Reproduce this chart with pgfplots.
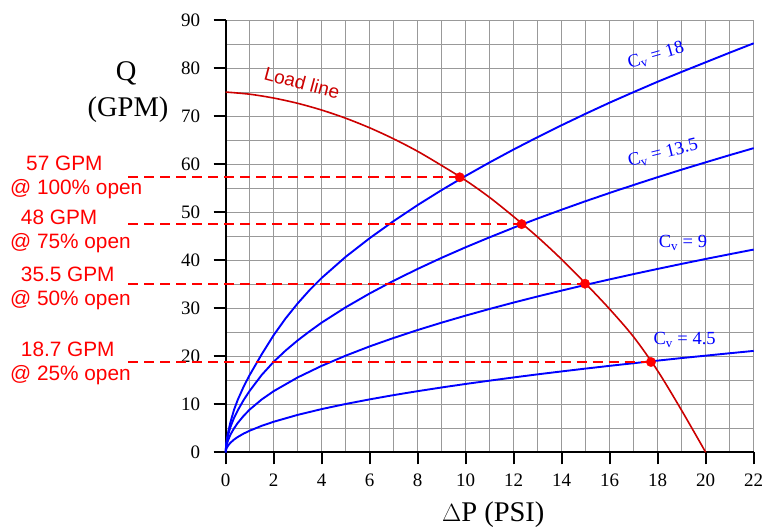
\documentclass[border=0pt]{standalone}
\usepackage{fontspec}
\setmainfont{Liberation Serif}
\newfontfamily\arial{Liberation Sans}
\usepackage{pgfplots}
\pgfplotsset{compat=1.18}
\definecolor{loadred}{HTML}{CC0000}
\definecolor{gridgray}{HTML}{999999}
\definecolor{cvblue}{HTML}{0000FF}
\definecolor{dotred}{HTML}{FF0000}
\begin{document}
\begin{tikzpicture}[x=1pt,y=1pt]
\useasboundingbox (-225.7,-74.7) rectangle (537.3,452.3);
\begin{axis}[
  at={(0,0)}, anchor=south west,
  width=528pt, height=432.3pt, scale only axis,
  xmin=0, xmax=22, ymin=0, ymax=90,
  clip=false,
  axis x line*=bottom, axis y line*=left,
  axis line style={-, line width=1.8pt, black},
  xtick={0,2,...,22}, ytick={0,10,...,90},
  minor x tick num=1, minor y tick num=1,
  grid=both,
  major grid style={gridgray, line width=0.9pt},
  minor grid style={gridgray, line width=0.9pt},
  tick align=outside,
  major tick length=12pt, minor tick length=0pt,
  tick style={black, line width=1.8pt},
  /pgf/number format/assume math mode=true,
  tick label style={font=\fontsize{19}{22}\selectfont},
  xticklabel style={yshift=-6pt},
  yticklabel style={xshift=-10pt},
  unbounded coords=jump,
]
% Cv curves
\addplot[cvblue, line width=1.9pt] coordinates {
(0,0)(0.02,1.8)(0.05,2.8)(0.1,4.15)(0.2,6.3)(0.35,8.9)(0.5,10.9)(0.75,13.7)(1,16.1)(1.5,20.4)(2,24.4)(2.5,27.9)(3,31.0)(3.5,33.8)(4,36.3)(5,40.7)(6,44.58)(7,48.15)(8,51.48)(9,54.6)(10,57.55)(11,60.36)(12,63.05)(13,65.62)(14,68.1)(15,70.49)(16,72.8)(17,75.0)(18,77.15)(19,79.2)(20,81.2)(21,83.2)(22,85.15)};
\addplot[cvblue, line width=1.9pt] coordinates {
(0,0)(0.02,1.5)(0.05,2.4)(0.1,3.6)(0.2,5.3)(0.35,7.2)(0.5,8.7)(0.75,10.9)(1,12.8)(1.5,16.1)(2,18.85)(2.5,21.2)(3,23.3)(3.5,25.2)(4,27.0)(5,30.19)(6,33.07)(7,35.72)(8,38.18)(9,40.5)(10,42.69)(11,44.77)(12,46.77)(13,48.68)(14,50.51)(15,52.29)(16,54.0)(17,55.66)(18,57.28)(19,58.85)(20,60.37)(21,61.87)(22,63.32)};
\addplot[cvblue, line width=1.9pt] coordinates {
(0,0)(0.02,1.1)(0.05,1.7)(0.1,2.5)(0.2,3.7)(0.35,5.0)(0.5,6.1)(0.75,7.6)(1,8.9)(1.5,11.0)(2,12.73)(3,15.59)(4,18.0)(5,20.12)(6,22.05)(7,23.81)(8,25.46)(9,27.0)(10,28.46)(11,29.85)(12,31.18)(13,32.45)(14,33.67)(15,34.86)(16,36.0)(17,37.11)(18,38.18)(19,39.23)(20,40.25)(21,41.24)(22,42.21)};
\addplot[cvblue, line width=1.9pt] coordinates {
(0,0)(0.02,0.6)(0.05,0.95)(0.1,1.4)(0.2,2.0)(0.35,2.66)(0.5,3.18)(0.75,3.9)(1,4.5)(1.5,5.51)(2,6.36)(3,7.79)(4,9.0)(5,10.06)(6,11.02)(7,11.91)(8,12.73)(9,13.5)(10,14.23)(11,14.92)(12,15.59)(13,16.23)(14,16.84)(15,17.43)(16,18.0)(17,18.55)(18,19.09)(19,19.62)(20,20.12)(21,20.62)(22,21.11)};
% load line
\addplot[loadred, line width=1.6pt, smooth] coordinates {
(0,75)(1,74.55)(2,73.75)(3,72.65)(4,71.25)(5,69.55)(6,67.55)(7,65.25)(8,62.65)(9,59.7)(10,56.6)(11,53.05)(12,49.05)(13,44.8)(14,40.15)(15,35.1)(16,29.8)(17,24.0)(18,16.95)(19,8.7)(20,0)};
% dashed lines
\addplot[draw=dotred, line width=1.8pt, dash pattern=on 10pt off 6pt] coordinates {
(-4.05,18.8)(17.72,18.8)
(nan,nan)
(-4.05,35.1)(14.97,35.1)
(nan,nan)
(-4.05,47.5)(12.33,47.5)
(nan,nan)
(-4.05,57.25)(9.75,57.25)};
% dots
\addplot[only marks, mark=*, mark size=4.7pt, mark options={draw=dotred, fill=dotred}] coordinates {(9.75,57.25)(12.33,47.5)(14.97,35.1)(17.72,18.8)};
% labels
\node[anchor=base west, inner sep=0pt, text=dotred, font=\arial\fontsize{20.8}{24}\selectfont] at (axis cs:-8.32,58.6) {57 GPM};
\node[anchor=base west, inner sep=0pt, text=dotred, font=\arial\fontsize{20.8}{24}\selectfont] at (axis cs:-8.99,53.75) {@ 100\% open};
\node[anchor=base west, inner sep=0pt, text=dotred, font=\arial\fontsize{20.8}{24}\selectfont] at (axis cs:-8.54,47.35) {48 GPM};
\node[anchor=base west, inner sep=0pt, text=dotred, font=\arial\fontsize{20.8}{24}\selectfont] at (axis cs:-8.99,42.35) {@ 75\% open};
\node[anchor=base west, inner sep=0pt, text=dotred, font=\arial\fontsize{20.8}{24}\selectfont] at (axis cs:-8.54,35.54) {35.5 GPM};
\node[anchor=base west, inner sep=0pt, text=dotred, font=\arial\fontsize{20.8}{24}\selectfont] at (axis cs:-8.99,30.54) {@ 50\% open};
\node[anchor=base west, inner sep=0pt, text=dotred, font=\arial\fontsize{20.8}{24}\selectfont] at (axis cs:-8.54,19.92) {18.7 GPM};
\node[anchor=base west, inner sep=0pt, text=dotred, font=\arial\fontsize{20.8}{24}\selectfont] at (axis cs:-8.99,14.92) {@ 25\% open};
\node[rotate=-15, inner sep=0pt, text=loadred, font=\arial\fontsize{19}{22}\selectfont] at (axis cs:3.18,76.9) {Load line};
\node[rotate=16, inner sep=0pt, text=cvblue, font=\fontsize{18.5}{22}\selectfont] at (axis cs:17.93,82.6) {C\textsubscript{v} = 18};
\node[rotate=14, inner sep=0pt, text=cvblue, font=\fontsize{18.5}{22}\selectfont] at (axis cs:18.22,62.2) {C\textsubscript{v} = 13.5};
\node[inner sep=0pt, text=cvblue, font=\fontsize{18.5}{22}\selectfont] at (axis cs:19.05,43.6) {C\textsubscript{v} = 9};
\node[inner sep=0pt, text=cvblue, font=\fontsize{18.5}{22}\selectfont] at (axis cs:19.12,23.4) {C\textsubscript{v} = 4.5};
\node[anchor=base, inner sep=0pt, font=\fontsize{28.5}{32}\selectfont] at (axis cs:-4.15,77.35) {Q};
\node[anchor=base, inner sep=0pt, font=\fontsize{28.5}{32}\selectfont] at (axis cs:-4.07,69.92) {(GPM)};
\node[anchor=base, inner sep=0pt, font=\fontsize{28.5}{32}\selectfont] at (axis cs:11.15,-14.31) {$\Delta$P (PSI)};
\end{axis}
\end{tikzpicture}
\end{document}
